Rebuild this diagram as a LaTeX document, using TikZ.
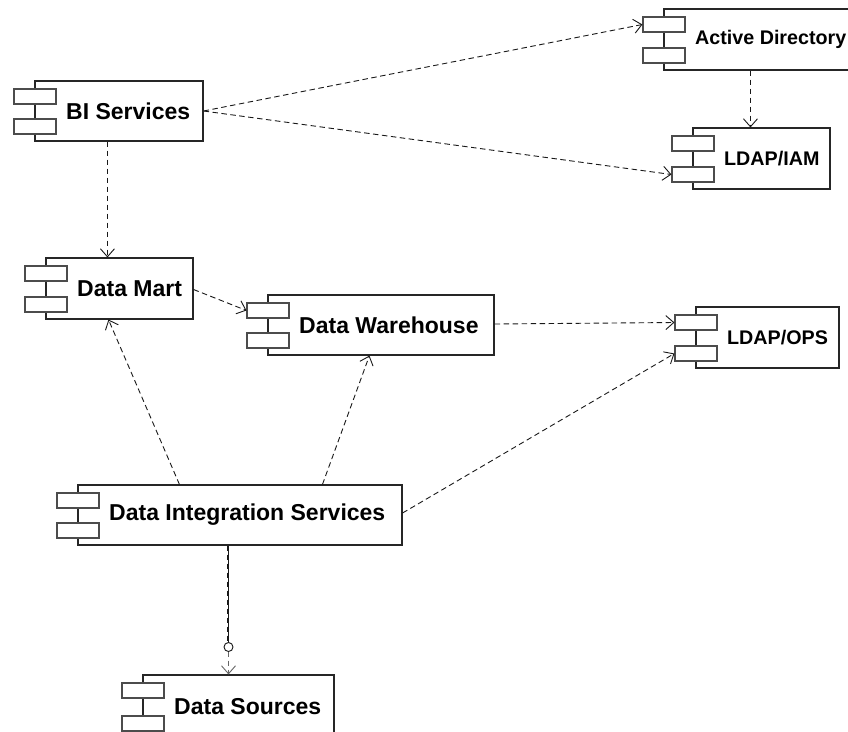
\documentclass[tikz,border=0pt]{standalone}
\usepackage{fontspec}
\setmainfont{Liberation Sans}
\usetikzlibrary{arrows.meta,fit}

\tikzset{
  compbody/.style={draw=black!85, line width=1.1pt, fill=white, inner sep=0pt},
  comptab/.style={draw=black!70, line width=1.1pt, fill=white, inner sep=0pt,
                  minimum width=42pt, minimum height=15pt},
  complabel/.style={anchor=west, inner sep=0pt, font=\bfseries\fontsize{23}{26}\selectfont},
  smalllabel/.style={complabel, font=\bfseries\fontsize{19.7}{22}\selectfont},
  dep/.style={draw=black!90, line width=0.9pt, dash pattern=on 5.5pt off 3.5pt,
              -{Straight Barb[length=8pt,width=14pt,line width=0.9pt]}},
}

% component: #1 name, #2 left, #3 top, #4 right, #5 bottom, #6 label style, #7 text
\newcommand\umlcomp[7]{%
  \coordinate (#1-a) at (#2,#3);
  \coordinate (#1-b) at (#4,#5);
  \node[compbody, fit=(#1-a)(#1-b)] (#1) {};
  \node[comptab] (#1-t1) at (#2, #3+15.5) {};
  \node[comptab] (#1-t2) at (#2, #5-14.5) {};
  \node[#6] (#1-label) at (#2+31, {(#3+#5)/2}) {#7};
}

\begin{document}
\begin{tikzpicture}[x=1pt, y=-1pt]
  \useasboundingbox (0,0) rectangle (848,731);

  % components
  \umlcomp{ad}{664}{9}{852}{70}{smalllabel}{Active Directory}
  \umlcomp{iam}{693}{128}{830}{189}{smalllabel}{LDAP/IAM}
  \umlcomp{bi}{35}{81}{203}{141}{complabel}{BI Services}
  \umlcomp{dm}{46}{258}{193}{319}{complabel}{Data Mart}
  \umlcomp{dw}{268}{295}{494}{355}{complabel}{Data Warehouse}
  \umlcomp{ops}{696}{307}{839}{368}{smalllabel}{LDAP/OPS}
  \umlcomp{dis}{78}{485}{402}{545}{complabel}{Data Integration Services}
  \umlcomp{ds}{143}{675}{334}{738}{complabel}{Data Sources}

  % dependencies
  \draw[dep] (bi.east) -- (ad-t1.west);
  \draw[dep] (bi.east) -- (iam-t2.west);
  \draw[dep] ([xshift=87pt]ad.south west) -- ([xshift=87pt]ad.south west |- iam.north);
  \draw[dep] ([xshift=73pt]bi.south west) -- ([xshift=73pt]bi.south west |- dm.north);
  \draw[dep] ([yshift=-1pt]dm.east) -- (dw-t1.west);
  \draw[dep] ([yshift=1pt]dw.east) -- (ops-t1.west);
  \draw[dep] ([yshift=2pt]dis.east) -- (ops-t2.west);
  \draw[dep] ([xshift=102pt]dis.north west) -- ([xshift=63pt]dm.south west);
  \draw[dep] ([xshift=245pt]dis.north west) -- ([xshift=102pt]dw.south west);

  % required interface between integration services and sources
  \coordinate (ifc) at (228.5,647);
  \draw[draw=black!90, line width=0.9pt] ([xshift=-11.5pt]dis.south) -- ([yshift=-4.5pt]ifc);
  \draw[draw=black!90, line width=0.9pt, dash pattern=on 5.5pt off 3.5pt]
    ([xshift=-12.3pt]dis.south) -- ([xshift=-0.8pt,yshift=-4.5pt]ifc);
  \draw[dep, draw=black!60] ([yshift=4.5pt]ifc) -- (ifc |- ds.north);
  \draw[draw=black!90, fill=white, line width=0.9pt] (ifc) circle [radius=4.5pt];
\end{tikzpicture}
\end{document}
